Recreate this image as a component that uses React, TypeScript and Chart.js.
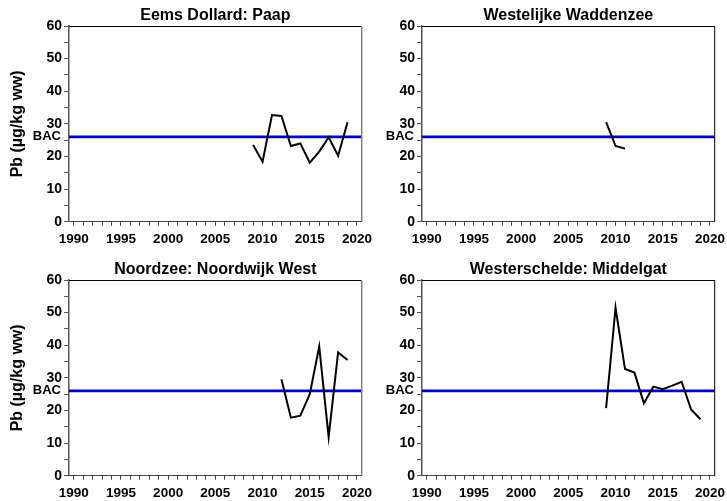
import React, { useEffect, useRef } from "react";
import { Chart, registerables } from "chart.js";

Chart.register(...registerables);

// ---- data ----
const eemsYears = [2009, 2010, 2011, 2012, 2013, 2014, 2015, 2016, 2017, 2018, 2019];
const eemsValues = [23.5, 18.4, 32.7, 32.4, 23.2, 24.0, 18.1, 21.5, 25.9, 20.2, 30.5];

const waddenYears = [2009, 2010, 2011];
const waddenValues = [30.5, 23.2, 22.4];

const noordzeeYears = [2012, 2013, 2014, 2015, 2016, 2017, 2018, 2019];
const noordzeeValues = [29.6, 17.8, 18.4, 25.0, 39.6, 11.8, 37.8, 35.5];

const scheldeYears = [2009, 2010, 2011, 2012, 2013, 2014, 2015, 2016, 2017, 2018, 2019];
const scheldeValues = [20.7, 51.5, 32.7, 31.6, 22.2, 27.3, 26.5, 27.6, 28.8, 20.3, 17.3];

const panelTitles = [
  "Eems Dollard: Paap",
  "Westelijke Waddenzee",
  "Noordzee: Noordwijk West",
  "Westerschelde: Middelgat",
];
const BAC = 26;
const BAC_LABEL = "BAC";
const Y_TITLE = "Pb (µg/kg ww)";
const xTickValues = [1990, 1991, 1992, 1993, 1994, 1995, 1996, 1997, 1998, 1999, 2000, 2001, 2002, 2003, 2004, 2005, 2006, 2007, 2008, 2009, 2010, 2011, 2012, 2013, 2014, 2015, 2016, 2017, 2018, 2019, 2020];
const yTickValues = [0, 5, 10, 15, 20, 25, 30, 35, 40, 45, 50, 55, 60];
const X_MIN = 1989.5;
const X_MAX = 2020.5;
const Y_MIN = 0;
const Y_MAX = 60;

const FONT = "'Liberation Sans', Arial, sans-serif";

type PanelDef = {
  title: string;
  years: number[];
  values: number[];
  L: number;
  T: number;
  leftPanel: boolean;
};

const PLOT_W = 292.7;
const PLOT_H = 195.7;
const CANVAS_W = 400;
const CANVAS_H = 250;
const YAXIS_W = 69;
const TOP_PAD = 26;

const panels: PanelDef[] = [
  { title: panelTitles[0], years: eemsYears, values: eemsValues, L: 69, T: 26, leftPanel: true },
  { title: panelTitles[1], years: waddenYears, values: waddenValues, L: 422.3, T: 26, leftPanel: false },
  { title: panelTitles[2], years: noordzeeYears, values: noordzeeValues, L: 69, T: 280, leftPanel: true },
  { title: panelTitles[3], years: scheldeYears, values: scheldeValues, L: 422.3, T: 280, leftPanel: false },
];

function Panel({ p }: { p: PanelDef }) {
  const ref = useRef<HTMLCanvasElement | null>(null);
  useEffect(() => {
    if (!ref.current) return;
    const decor = {
      id: "decor",
      afterDraw(chart: any) {
        const ctx = chart.ctx;
        const a = chart.chartArea;
        const ys = chart.scales.y;
        ctx.save();
        // top border
        ctx.strokeStyle = "#000";
        ctx.lineWidth = 1;
        ctx.beginPath();
        ctx.moveTo(a.left, a.top + 0.5);
        ctx.lineTo(a.right, a.top + 0.5);
        ctx.stroke();
        // right border
        ctx.strokeStyle = p.leftPanel ? "#808080" : "#000";
        ctx.lineWidth = p.leftPanel ? 1.5 : 1;
        ctx.beginPath();
        ctx.moveTo(a.right, a.top);
        ctx.lineTo(a.right, a.bottom);
        ctx.stroke();
        // title
        ctx.fillStyle = "#000";
        ctx.font = `bold 16px ${FONT}`;
        ctx.textAlign = "center";
        ctx.textBaseline = "middle";
        ctx.fillText(p.title, (a.left + a.right) / 2, a.top - 10);
        // BAC label
        ctx.font = `bold 13px ${FONT}`;
        ctx.textAlign = "right";
        ctx.fillText(BAC_LABEL, a.left - 8, ys.getPixelForValue(BAC));
        // y title
        if (p.leftPanel) {
          ctx.translate(18, (a.top + a.bottom) / 2);
          ctx.rotate(-Math.PI / 2);
          ctx.font = `bold 16px ${FONT}`;
          ctx.textAlign = "center";
          ctx.fillText(Y_TITLE, 0, 0);
        }
        ctx.restore();
      },
    };
    const chart = new Chart(ref.current, {
      type: "line",
      data: {
        datasets: [
          {
            data: p.years.map((yr, i) => ({ x: yr, y: p.values[i] })),
            borderColor: "#000",
            borderWidth: 2,
            pointRadius: 0,
            tension: 0,
            fill: false,
          },
          {
            data: [
              { x: X_MIN, y: BAC },
              { x: X_MAX, y: BAC },
            ],
            borderColor: "#0000c0",
            borderWidth: 2.8,
            pointRadius: 0,
            fill: false,
          },
        ],
      },
      options: {
        animation: false,
        responsive: false,
        devicePixelRatio: 1,
        layout: {
          padding: {
            left: 0,
            top: TOP_PAD,
            right: CANVAS_W - YAXIS_W - PLOT_W,
            bottom: 0,
          },
        },
        plugins: {
          legend: { display: false },
          tooltip: { enabled: false },
          title: { display: false },
        },
        scales: {
          x: {
            type: "linear",
            min: X_MIN,
            max: X_MAX,
            afterBuildTicks: (s: any) => {
              s.ticks = xTickValues.map((v) => ({ value: v }));
            },
            afterFit: (s: any) => {
              s.height = CANVAS_H - TOP_PAD - PLOT_H;
            },
            ticks: {
              autoSkip: false,
              maxRotation: 0,
              padding: 5,
              color: "#000",
              font: { family: FONT, size: 13.5, weight: "bold" },
              callback: (v: any) => (Number(v) % 5 === 0 ? String(v) : ""),
            },
            grid: {
              drawOnChartArea: false,
              drawTicks: true,
              tickLength: 4,
              color: "#444",
            },
            border: { color: "#444", width: 1 },
          },
          y: {
            type: "linear",
            min: Y_MIN,
            max: Y_MAX,
            afterBuildTicks: (s: any) => {
              s.ticks = yTickValues.map((v) => ({ value: v }));
            },
            afterFit: (s: any) => {
              s.width = YAXIS_W;
            },
            ticks: {
              autoSkip: false,
              padding: 2,
              color: "#000",
              font: { family: FONT, size: 14, weight: "bold" },
              callback: (v: any) => (Number(v) % 10 === 0 ? String(v) : ""),
            },
            grid: {
              drawOnChartArea: false,
              drawTicks: true,
              tickLength: 5,
              color: "#555",
            },
            border: { color: "#555", width: 1.5 },
          },
        },
      } as any,
      plugins: [decor],
    });
    return () => chart.destroy();
  }, [p]);
  return (
    <canvas
      ref={ref}
      width={CANVAS_W}
      height={CANVAS_H}
      style={{
        position: "absolute",
        left: p.L - YAXIS_W,
        top: p.T - TOP_PAD,
        width: CANVAS_W,
        height: CANVAS_H,
      }}
    />
  );
}

export default function App() {
  return (
    <div
      style={{
        position: "fixed",
        left: 0,
        top: 0,
        width: 727,
        height: 501,
        overflow: "hidden",
        background: "#fff",
      }}
    >
      {panels.map((p, i) => (
        <Panel key={i} p={p} />
      ))}
    </div>
  );
}
